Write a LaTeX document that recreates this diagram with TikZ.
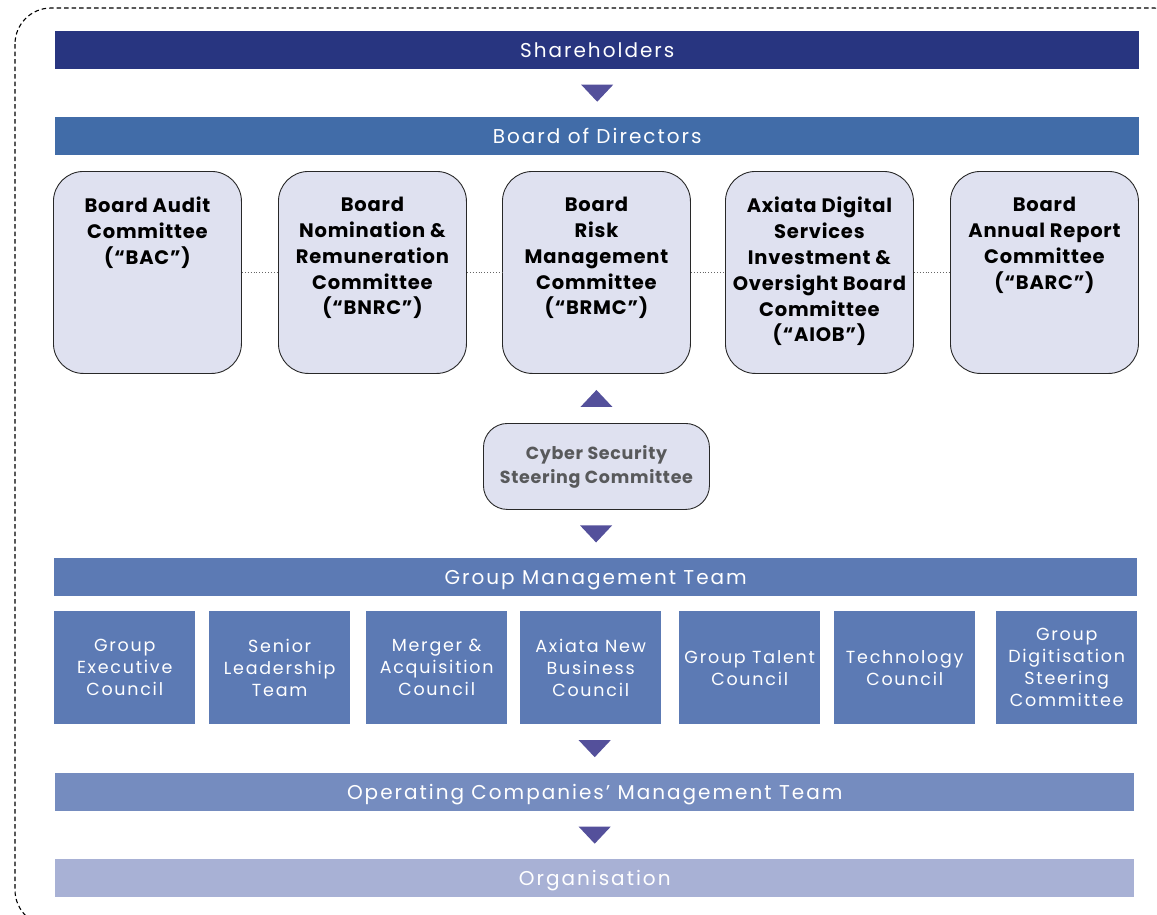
\documentclass[tikz,border=0pt]{standalone}
\usepackage{fontspec}
\setmainfont{Poppins}
\newfontfamily\spacedfont[LetterSpace=10]{Poppins}
\newfontfamily\boldspaced[LetterSpace=4]{Poppins}
\usetikzlibrary{calc}

\definecolor{navy}{RGB}{40,53,128}
\definecolor{boardblue}{RGB}{65,108,168}
\definecolor{mgmtblue}{RGB}{92,122,180}
\definecolor{opcoblue}{RGB}{117,140,191}
\definecolor{orgblue}{RGB}{168,177,213}
\definecolor{tripurple}{RGB}{84,80,155}
\definecolor{commfill}{RGB}{223,225,240}
\definecolor{commline}{RGB}{40,40,40}
\definecolor{cybertext}{RGB}{88,89,91}

\begin{document}
\begin{tikzpicture}[x=1pt,y=-1pt,
  bar/.style={anchor=north west, minimum height=38pt, inner sep=0pt,
    text height=14pt, text depth=0pt,
    text=white, font=\spacedfont\fontsize{20}{20}\selectfont},
  commbox/.style={anchor=north west, draw=commline, line width=0.9pt,
    fill=commfill, rounded corners=30pt, minimum width=188pt,
    minimum height=202pt, inner sep=0pt},
  commtext/.style={anchor=north, align=center, inner sep=0pt,
    font=\boldspaced\bfseries\fontsize{19.5}{25.8}\selectfont, text=black},
  cyberbox/.style={anchor=north west, draw=commline, line width=0.9pt,
    fill=commfill, rounded corners=24pt, minimum width=226pt,
    minimum height=86pt, inner sep=0pt, align=center, text=cybertext,
    font=\boldspaced\bfseries\fontsize{17.5}{24}\selectfont},
  council/.style={anchor=north west, fill=mgmtblue, minimum width=141pt,
    minimum height=113pt, inner sep=0pt, align=center, text=white,
    font=\spacedfont\fontsize{17.5}{22}\selectfont},
  dotlink/.style={draw=black!60, line width=0.9pt, dotted},
  frame/.style={draw=black, line width=1.1pt, dash pattern=on 4.5pt off 3pt,
    rounded corners=36pt}
]
\useasboundingbox (0,0) rectangle (1157,914);
\clip (0,0) rectangle (1157,914);

% outer dashed frame
\draw[frame] (15,8) rectangle (1190,926);

% filled triangle pointers
\newcommand{\downpointer}[1]{\fill[tripurple] ($(#1)+(-16,-8.5)$) -- ++(32,0) -- ++(-16,17) -- cycle;}
\newcommand{\uppointer}[1]{\fill[tripurple] ($(#1)+(-16,8.5)$) -- ++(32,0) -- ++(-16,-17) -- cycle;}

% top bars
\node[bar, fill=navy, minimum width=1084pt] (sh) at (55,31) {Shareholders};
\node[bar, fill=boardblue, minimum width=1084pt] (bod) at (55,117) {Board of Directors};

% board committees
\node[commbox] (c1) at (53,171) {};
\node[commbox] (c2) at (278,171) {};
\node[commbox] (c3) at (502,171) {};
\node[commbox] (c4) at (725,171) {};
\node[commbox] (c5) at (950,171) {};

\node[commtext] (t1) at ($(c1.north)+(0,26)$) {Board Audit\\Committee\\(“BAC”)};
\node[commtext] (t2) at ($(c2.north)+(0,26)$) {Board\\Nomination \&\\Remuneration\\Committee\\(“BNRC”)};
\node[commtext] (t3) at ($(c3.north)+(0,26)$) {Board\\Risk\\Management\\Committee\\(“BRMC”)};
\node[commtext] (t4) at ($(c4.north)+(0,26)$) {Axiata Digital\\Services\\Investment \&\\Oversight Board\\Committee\\(“AIOB”)};
\node[commtext] (t5) at ($(c5.north)+(0,26)$) {Board\\Annual Report\\Committee\\(“BARC”)};

\draw[dotlink] (c1.east) -- (c2.west);
\draw[dotlink] (c2.east) -- (c3.west);
\draw[dotlink] (c3.east) -- (c4.west);
\draw[dotlink] (c4.east) -- (c5.west);

% cyber security committee
\node[cyberbox] (cy) at (483,423) {Cyber Security\\Steering Committee};

% management bars and councils
\node[bar, fill=mgmtblue, minimum width=1083pt] (gmt) at (54,558) {Group Management Team};

\node[council] (g1) at (54,611) {Group\\Executive\\Council};
\node[council] (g2) at (209,611) {Senior\\Leadership\\Team};
\node[council] (g3) at (366,611) {Merger \&\\Acquisition\\Council};
\node[council] (g4) at (520,611) {Axiata New\\Business\\Council};
\node[council] (g5) at (679,611) {Group Talent\\Council};
\node[council] (g6) at (834,611) {Technology\\Council};
\node[council] (g7) at (996,611) {Group\\Digitisation\\Steering\\Committee};

\node[bar, fill=opcoblue, minimum width=1079pt] (opco) at (55,773) {Operating Companies’ Management Team};
\node[bar, fill=orgblue, minimum width=1079pt] (org) at (55,859) {Organisation};

% pointers between levels
\coordinate (p1) at ($(sh.south)!0.5!(bod.north)$);
\coordinate (p2) at ($(c3.south)!0.5!(cy.north)$);
\coordinate (p3) at ($(cy.south)!0.5!(gmt.north)$);
\coordinate (p4) at ($(g4.south -| opco.north)!0.5!(opco.north)$);
\coordinate (p5) at ($(opco.south)!0.5!(org.north)$);
\downpointer{p1}
\uppointer{p2}
\downpointer{p3}
\downpointer{p4}
\downpointer{p5}
\end{tikzpicture}
\end{document}
